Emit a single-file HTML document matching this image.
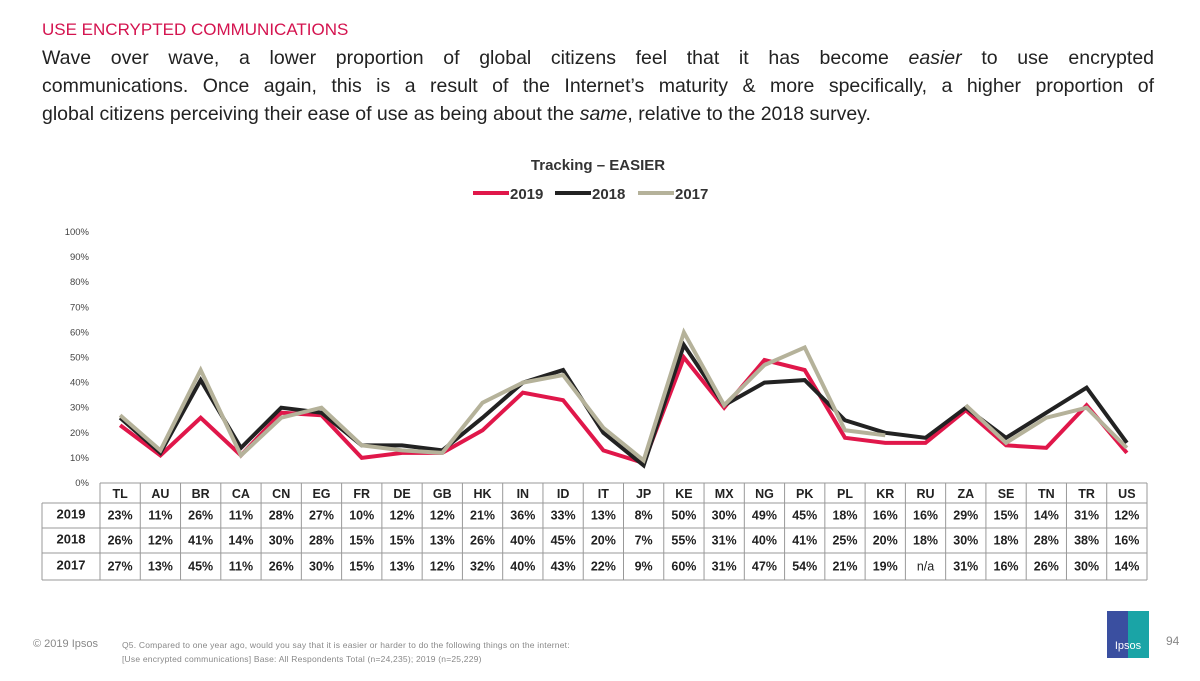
<!DOCTYPE html>
<html><head><meta charset="utf-8"><style>
body{margin:0;width:1200px;height:675px;background:#fff;font-family:"Liberation Sans",sans-serif;position:relative;overflow:hidden}
.t{position:absolute}
.ln{text-align:justify;text-align-last:justify;white-space:nowrap;height:28px}
</style></head><body>
<div class="t" style="left:42px;top:20px;font-size:17px;color:#d4134f">USE ENCRYPTED COMMUNICATIONS</div>
<div class="t" style="left:42px;top:44px;width:1112px;font-size:19.5px;line-height:28px;color:#222">
<div class="ln" style="white-space:normal">Wave over wave, a lower proportion of global citizens feel that it has become <i>easier</i> to use encrypted</div>
<div class="ln" style="white-space:normal">communications. Once again, this is a result of the Internet’s maturity &amp; more specifically, a higher proportion of</div>
<div style="height:28px">global citizens perceiving their ease of use as being about the <i>same</i>, relative to the 2018 survey.</div>
</div>
<svg id="chart" width="1200" height="675" style="position:absolute;left:0;top:0"></svg>
<div class="t" style="left:33px;top:638px;font-size:11px;color:#888">© 2019 Ipsos</div>
<div class="t" style="left:122px;top:638px;font-size:8.5px;line-height:14px;color:#888;letter-spacing:0.2px">Q5. Compared to one year ago, would you say that it is easier or harder to do the following things on the internet:<br>[Use encrypted communications] Base: All Respondents Total (n=24,235); 2019 (n=25,229)</div>
<div class="t" style="left:1107px;top:611px;width:42px;height:47px;background:linear-gradient(90deg,#3a4fa0 50%,#1aa4a6 50%);color:#fff;font-size:11px;text-align:center;line-height:70px">Ipsos</div>
<div class="t" style="left:1166px;top:634px;font-size:12px;color:#888">94</div>
<script>
const categories=["TL","AU","BR","CA","CN","EG","FR","DE","GB","HK","IN","ID","IT","JP","KE","MX","NG","PK","PL","KR","RU","ZA","SE","TN","TR","US"];
const s2019=[23,11,26,11,28,27,10,12,12,21,36,33,13,8,50,30,49,45,18,16,16,29,15,14,31,12];
const s2018=[26,12,41,14,30,28,15,15,13,26,40,45,20,7,55,31,40,41,25,20,18,30,18,28,38,16];
const s2017=[27,13,45,11,26,30,15,13,12,32,40,43,22,9,60,31,47,54,21,19,null,31,16,26,30,14];
const seriesNames=["2019","2018","2017"];
const yTicks=[0,10,20,30,40,50,60,70,80,90,100];
const NS="http://www.w3.org/2000/svg",svg=document.getElementById('chart');
const x0=100,cw=(1147-100)/26,y0=483,yTop=232;
const X=i=>x0+cw*(i+0.5), Y=v=>y0-(v/100)*(y0-yTop);
function mk(t,a,p){const e=document.createElementNS(NS,t);for(const k in a)e.setAttribute(k,a[k]);(p||svg).appendChild(e);return e;}
let e=mk('text',{x:598,y:170,'text-anchor':'middle','font-size':15,'font-weight':'bold',fill:'#333'});e.textContent='Tracking – EASIER';


const colors=["#e0174a","#222222","#b5b29a"];
const lx=[473,555,638];
seriesNames.forEach((n,k)=>{
 const g=mk('g',{});
 
 
 mk('line',{x1:lx[k],x2:lx[k]+36,y1:193,y2:193,stroke:colors[k],'stroke-width':4},g);
 const t=mk('text',{x:lx[k]+37,y:199,'font-size':15,'font-weight':'bold',fill:'#333'},g);t.textContent=n;
});
yTicks.forEach(v=>{const t=mk('text',{x:89,y:Y(v)+3,'text-anchor':'end','font-size':9.5,fill:'#444'});t.textContent=v+'%';
 
 });
const data=[s2019,s2018,s2017];
data.forEach((s,k)=>{
 let d='',pen=false;
 s.forEach((v,i)=>{if(v==null){pen=false;return;}d+=(pen?'L':'M')+X(i)+' '+Y(v)+' ';pen=true;});
 const p=mk('path',{d:d,fill:'none',stroke:colors[k],'stroke-width':4,'stroke-linejoin':'miter'});
 
 
});
const rows=[483,503,528,553,580];
const tg=mk('g',{});


const st={stroke:'#999','stroke-width':1};
for(let r=0;r<rows.length;r++){mk('line',Object.assign({x1:r==0?x0:42,x2:1147,y1:rows[r],y2:rows[r]},st),tg);}
mk('line',Object.assign({x1:42,x2:42,y1:503,y2:580},st),tg);
for(let i=0;i<=26;i++){mk('line',Object.assign({x1:x0+cw*i,x2:x0+cw*i,y1:483,y2:580},st),tg);}
categories.forEach((c,i)=>{const t=mk('text',{x:X(i),y:498,'text-anchor':'middle','font-size':12.5,'font-weight':'bold',fill:'#222'},tg);t.textContent=c;});
data.forEach((s,k)=>{
 const cy=(rows[k+1]+rows[k+2])/2+4;
 const h=mk('text',{x:71,y:cy-1,'text-anchor':'middle','font-size':13,'font-weight':'bold',fill:'#222'},tg);h.textContent=seriesNames[k];
 s.forEach((v,i)=>{const t=mk('text',{x:X(i),y:cy,'text-anchor':'middle','font-size':12.5,'font-weight':v==null?'normal':'bold',fill:'#222'},tg);t.textContent=v==null?'n/a':v+'%';});
});
</script>
</body></html>
